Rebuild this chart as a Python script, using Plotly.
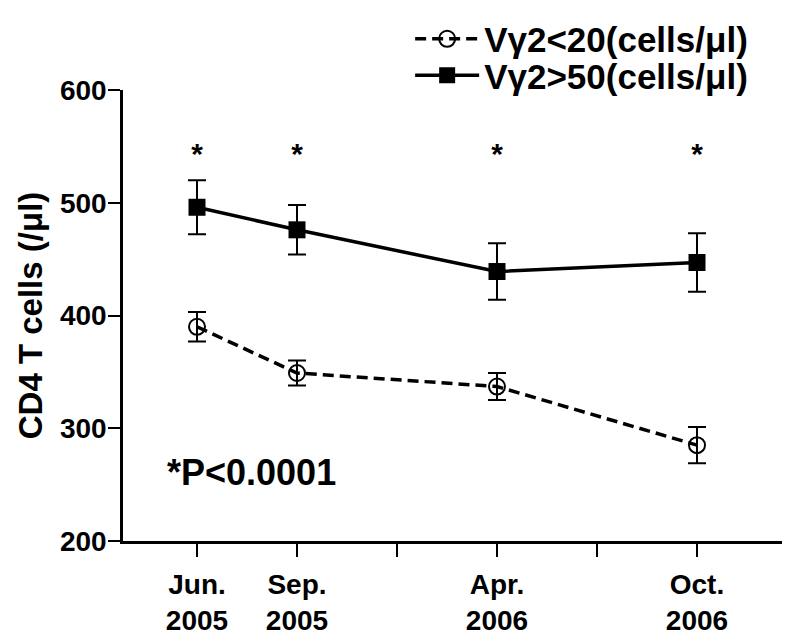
import plotly.graph_objects as go

# ---- data ----
categories = ["Jun.<br>2005", "Sep.<br>2005", "Apr.<br>2006", "Oct.<br>2006"]
cat_slots = [1, 2, 4, 6]            # slot index of each time point on the axis
axis_slots = [1, 2, 3, 4, 5, 6]     # every tick mark on the x axis
axis_text = ["Jun.<br>2005", "Sep.<br>2005", "", "Apr.<br>2006", "", "Oct.<br>2006"]

low_name = "Vγ2<20(cells/μl)"
low_mean = [390, 349, 337, 285]
low_err = [13, 11, 12, 16]

high_name = "Vγ2>50(cells/μl)"
high_mean = [496, 476, 439, 447]
high_err = [24, 22, 25, 26]

star_y = [541, 541, 541, 541]
p_text = "*P<0.0001"
p_pos = (0.68, 261)

y_ticks = [200, 300, 400, 500, 600]
y_title = "CD4 T cells (/μl)"

FONT = "Liberation Sans, Arial, sans-serif"

fig = go.Figure()

fig.add_trace(go.Scatter(
    x=cat_slots, y=low_mean, name=low_name, mode="lines+markers",
    line=dict(color="black", width=3.5, dash="11px,6px"),
    marker=dict(symbol="circle-open", size=16, color="black", line=dict(width=2, color="black")),
    error_y=dict(type="data", array=low_err, visible=True, color="black", thickness=2, width=9),
    legend="legend",
))
fig.add_trace(go.Scatter(
    x=cat_slots, y=high_mean, name=high_name, mode="lines+markers",
    line=dict(color="black", width=3.5),
    marker=dict(symbol="square", size=17, color="black"),
    error_y=dict(type="data", array=high_err, visible=True, color="black", thickness=2, width=9),
    legend="legend2",
))
fig.add_trace(go.Scatter(
    x=cat_slots, y=star_y, mode="text", text=["*"] * len(cat_slots),
    textposition="middle center", showlegend=False,
    textfont=dict(size=30, color="black", family=FONT, weight="bold"),
    hoverinfo="skip",
))

fig.add_annotation(
    x=p_pos[0], y=p_pos[1], text=p_text, showarrow=False,
    xanchor="left", yanchor="middle",
    font=dict(size=36, color="black", family=FONT, weight="bold"),
)

legend_common = dict(
    font=dict(size=35, color="black", family=FONT, weight="bold"),
    bgcolor="rgba(0,0,0,0)", borderwidth=0, xanchor="left", yanchor="middle",
    itemwidth=64,
)
fig.update_layout(
    width=782, height=629,
    margin=dict(l=115, r=0, t=82, b=96),
    paper_bgcolor="white", plot_bgcolor="white",
    font=dict(family=FONT, color="black", weight="bold"),
    legend=dict(x=0.4305, y=1.113, **legend_common),
    legend2=dict(x=0.4305, y=1.032, **legend_common),
    xaxis=dict(
        range=[0.26, 6.93], tickvals=axis_slots, ticktext=axis_text,
        showline=True, linecolor="black", linewidth=3,
        ticks="outside", ticklen=13, tickwidth=2, tickcolor="black",
        showgrid=False, zeroline=False, ticklabelstandoff=3,
        tickfont=dict(size=28, color="black", family=FONT, weight="bold"),
    ),
    yaxis=dict(
        range=[200, 600], tickvals=y_ticks,
        showline=True, linecolor="black", linewidth=2.5,
        ticks="outside", ticklen=12, tickwidth=2, tickcolor="black",
        showgrid=False, zeroline=False, ticklabelstandoff=-4,
        tickfont=dict(size=28, color="black", family=FONT, weight="bold"),
        title=dict(text=y_title, standoff=8,
                   font=dict(size=33, color="black", family=FONT, weight="bold")),
    ),
)

fig.write_html("out.html")
